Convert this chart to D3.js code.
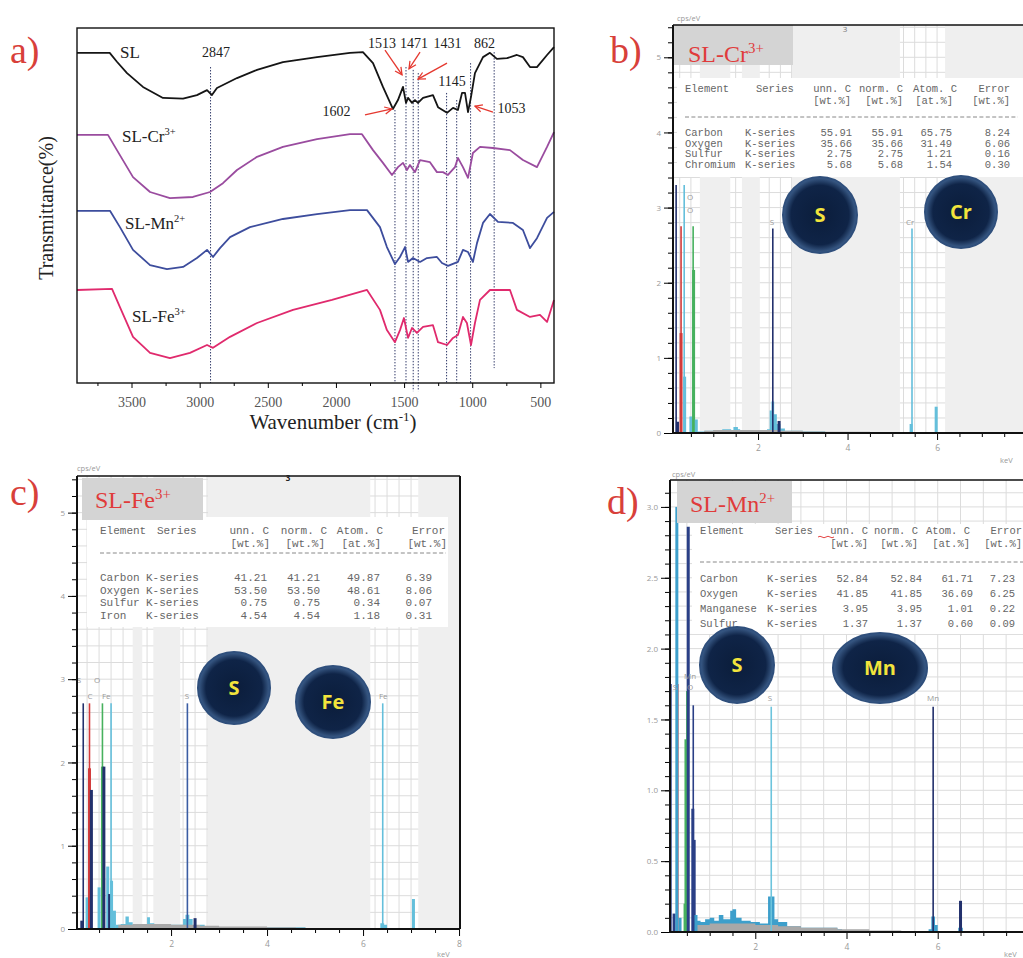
<!DOCTYPE html>
<html>
<head>
<meta charset="utf-8">
<script src="https://cdn.jsdelivr.net/npm/d3@7"></script>
<style>
  body { margin: 0; background: #fff; }
</style>
</head>
<body>
<div id="fig"></div>
<script>
// ---------- panel a : FTIR spectra (wavenumber, transmittance a.u.) ----------
const wnSL = [3900, 3660, 3607, 3533, 3416, 3269, 3122, 3020, 2946, 2910, 2873, 2726, 2579, 2389, 2139, 1897, 1802, 1728, 1655, 1582, 1545, 1508, 1486, 1471, 1442, 1420, 1398, 1361, 1288, 1251, 1185, 1141, 1105, 1075, 1053, 1031, 1009, 980, 921, 870, 819, 745, 672, 628, 576, 525, 451, 400];
const tSL = [93.0, 93.0, 90.5, 87.3, 83.4, 80.3, 80.1, 81.1, 82.5, 81.1, 83.1, 85.9, 88.2, 90.4, 91.8, 93.0, 93.2, 90.1, 83.4, 77.2, 79.7, 83.4, 78.9, 80.3, 78.9, 79.7, 78.9, 80.3, 81.1, 77.7, 76.1, 77.5, 76.9, 81.7, 81.7, 76.3, 80.6, 87.3, 91.8, 93.0, 91.3, 91.5, 92.4, 91.8, 89.0, 89.0, 92.4, 94.6];

const wnCr = [3900, 3673, 3607, 3489, 3364, 3218, 3049, 2924, 2829, 2726, 2579, 2389, 2139, 1897, 1809, 1728, 1655, 1589, 1545, 1508, 1479, 1457, 1420, 1383, 1310, 1259, 1215, 1178, 1127, 1105, 1068, 1031, 995, 943, 848, 723, 628, 525, 451, 400];
const tCr = [69.9, 69.9, 65.6, 58.0, 53.8, 52.1, 52.4, 53.8, 56.3, 60.0, 63.7, 66.5, 68.7, 70.1, 70.1, 65.6, 62.0, 58.6, 60.8, 62.0, 60.0, 61.4, 59.4, 62.8, 62.2, 59.4, 59.4, 58.6, 60.8, 63.4, 60.8, 57.8, 64.8, 66.5, 66.2, 65.6, 62.8, 60.8, 66.5, 70.7];

const wnMn = [3900, 3658, 3585, 3489, 3364, 3240, 3122, 3020, 2946, 2902, 2851, 2777, 2631, 2389, 2139, 1897, 1772, 1677, 1626, 1567, 1530, 1493, 1471, 1435, 1383, 1332, 1259, 1222, 1178, 1105, 1068, 1031, 995, 965, 921, 870, 811, 701, 628, 576, 525, 451, 400];
const tMn = [48.5, 48.5, 43.9, 37.5, 33.2, 32.1, 32.7, 35.2, 37.5, 35.5, 38.0, 41.1, 43.9, 46.2, 47.6, 48.7, 48.7, 43.9, 38.3, 33.5, 35.5, 38.3, 34.1, 35.2, 34.1, 35.2, 35.5, 33.8, 33.0, 34.1, 37.5, 36.9, 34.1, 39.4, 45.1, 47.6, 45.4, 45.1, 43.1, 38.0, 40.8, 46.5, 48.2];

const wnFe = [3900, 3643, 3585, 3489, 3364, 3218, 3071, 2946, 2902, 2777, 2579, 2315, 2029, 1772, 1677, 1626, 1567, 1530, 1501, 1471, 1442, 1406, 1361, 1288, 1251, 1185, 1141, 1105, 1068, 1039, 1009, 980, 943, 870, 819, 723, 672, 576, 503, 451, 400];
const tFe = [26.2, 26.5, 21.4, 13.0, 8.5, 7.0, 8.5, 10.7, 9.9, 13.0, 16.9, 20.6, 23.4, 26.2, 20.6, 14.9, 11.5, 14.9, 18.3, 12.7, 15.5, 14.1, 15.8, 16.3, 11.5, 10.7, 12.7, 13.5, 18.6, 16.9, 10.7, 16.9, 23.4, 26.2, 26.2, 26.2, 20.6, 18.6, 19.2, 17.2, 23.4];

const seriesName = ['SL', 'SL-Cr', 'SL-Mn', 'SL-Fe'];
const seriesSup = ['', '3+', '2+', '3+'];
const nameWn = [3585, 3570, 3548, 3496];
const nameT = [91.5, 67.9, 43.4, 17.2];

// dotted guide lines
const vWn = [2920, 1567, 1486, 1433, 1396, 1188, 1114, 1012, 839];
const vTop = [89.0, 76.9, 89.0, 88.2, 87.3, 81.7, 79.7, 90.1, 93.2];
const vBot = [0, 0, 0, -2.3, -2.3, 0, 0, 0, 4.2];

// peak annotations
const peakLab = ['2847', '1513', '1471', '1431', '862', '1145', '1602', '1053'];
const peakLabWn = [2880, 1662, 1427, 1182, 910, 1149, 1996, 712];
const peakLabT = [91.8, 94.4, 94.4, 94.4, 94.4, 83.7, 75.2, 76.1];
const arrFromWn = [1640, 1383, 1185, 1787, 848];
const arrFromT = [93.8, 93.2, 90.1, 75.5, 76.3];
const arrToWn = [1515, 1464, 1398, 1589, 980];
const arrToT = [86.8, 88.5, 85.6, 77.2, 78.0];

const xTicksA = [3500, 3000, 2500, 2000, 1500, 1000, 500];
const xMinorA = [3750, 3250, 2750, 2250, 1750, 1250, 750];

// ---------- panel b : EDS SL-Cr3+ ----------
const bElem = ['Carbon', 'Oxygen', 'Sulfur', 'Chromium'];
const bUnn = [55.91, 35.66, 2.75, 5.68];
const bNorm = [55.91, 35.66, 2.75, 5.68];
const bAtom = [65.75, 31.49, 1.21, 1.54];
const bErr = [8.24, 6.06, 0.16, 0.30];
const bMarkK = [0.17, 0.28, 0.35, 0.55, 2.33, 5.44];
const bMarkV = [3.3, 2.75, 3.3, 2.75, 2.72, 2.72];
const bMarkEl = ['bs', 'C', 'sp', 'O', 'S', 'Cr'];
const bPeakK = [0.2, 0.28, 0.36, 0.5, 0.56, 0.62, 2.47, 5.42, 5.98];
const bPeakV = [0.15, 1.33, 0.75, 0.22, 2.17, 0.18, 0.16, 0.12, 0.35];
const bPeakEl = ['bs', 'C', 'sp', 'sp', 'O', 'sp', 'bs', 'sp', 'sp'];
const bSpecK = [0.65, 0.8, 1.0, 1.2, 1.4, 1.45, 1.55, 1.6, 2.0, 2.2, 2.26, 2.3, 2.36, 2.42, 2.5, 2.6, 3.0, 3.5, 4.0];
const bSpecV = [0.02, 0.03, 0.04, 0.05, 0.04, 0.08, 0.05, 0.04, 0.04, 0.05, 0.3, 0.42, 0.25, 0.12, 0.06, 0.03, 0.02, 0.01, 0.0];
const bBgK = [0.8, 1.0, 1.5, 2.0, 2.5, 3.0, 3.5, 4.5];
const bBgV = [0.03, 0.04, 0.04, 0.04, 0.03, 0.02, 0.015, 0.0];
const bLabT = ['O', 'O', 'S', 'Cr'];
const bLabK = [0.48, 0.48, 2.31, 5.4];
const bLabV = [3.14, 2.97, 2.81, 2.81];

// ---------- panel c : EDS SL-Fe3+ ----------
const cElem = ['Carbon', 'Oxygen', 'Sulfur', 'Iron'];
const cUnn = [41.21, 53.50, 0.75, 4.54];
const cNorm = [41.21, 53.50, 0.75, 4.54];
const cAtom = [49.87, 48.61, 0.34, 1.18];
const cErr = [6.39, 8.06, 0.07, 0.31];
const cMarkK = [0.17, 0.3, 0.57, 0.75, 2.34, 6.41];
const cMarkV = [2.71, 2.71, 2.71, 2.71, 2.71, 2.71];
const cMarkEl = ['bs', 'C', 'O', 'Fe', 'S', 'Fe'];
const cPeakK = [0.14, 0.25, 0.3, 0.34, 0.5, 0.57, 0.6, 0.68, 0.72, 0.76, 0.82, 2.5, 7.05];
const cPeakV = [0.1, 0.38, 1.93, 1.67, 0.5, 1.95, 1.95, 0.75, 0.42, 0.58, 0.22, 0.13, 0.36];
const cPeakEl = ['bs', 'sp', 'C', 'bs', 'sp', 'O', 'bs', 'sp', 'bs', 'sp', 'sp', 'bs', 'sp'];
const cSpecK = [0.85, 0.95, 1.05, 1.12, 1.2, 1.45, 1.5, 1.56, 1.65, 2.2, 2.25, 2.3, 2.38, 2.45, 2.6, 2.7, 3.0, 4.0, 4.8, 6.3, 6.36, 6.44, 6.5];
const cSpecV = [0.05, 0.06, 0.15, 0.08, 0.05, 0.06, 0.14, 0.07, 0.05, 0.05, 0.12, 0.17, 0.12, 0.04, 0.05, 0.03, 0.02, 0.02, 0.0, 0.0, 0.07, 0.05, 0.0];
const cBgK = [0.9, 1.2, 1.6, 2.0, 2.6, 3.0, 4.0, 4.6, 4.8];
const cBgV = [0.05, 0.06, 0.06, 0.05, 0.04, 0.03, 0.02, 0.015, 0.0];
const cLabT = ['S', 'O', 'C', 'Fe', 'S', 'Fe'];
const cLabK = [0.08, 0.46, 0.31, 0.65, 2.33, 6.42];
const cLabV = [2.99, 2.99, 2.8, 2.8, 2.8, 2.8];

// ---------- panel d : EDS SL-Mn2+ ----------
const dElem = ['Carbon', 'Oxygen', 'Manganese', 'Sulfur'];
const dUnn = [52.84, 41.85, 3.95, 1.37];
const dNorm = [52.84, 41.85, 3.95, 1.37];
const dAtom = [61.71, 36.69, 1.01, 0.60];
const dErr = [7.23, 6.25, 0.22, 0.09];
const dMarkK = [0.15, 0.3, 0.5, 0.64, 2.35, 5.9];
const dMarkV = [1.75, 1.75, 1.7, 1.6, 1.59, 1.59];
const dMarkEl = ['bs', 'C', 'O', 'bs', 'S', 'Mn'];
const dPeakK = [0.22, 0.28, 0.35, 0.46, 0.48, 0.53, 0.63, 0.66, 0.7, 6.5];
const dPeakV = [0.13, 3.0, 0.1, 0.2, 1.36, 2.86, 0.87, 0.65, 0.12, 0.22];
const dPeakEl = ['bs', 'sp', 'sp', 'O', 'O', 'bs', 'bs', 'bs', 'sp', 'Mn'];
const dSpecK = [0.72, 0.8, 0.9, 1.0, 1.1, 1.2, 1.3, 1.45, 1.5, 1.58, 1.7, 1.9, 2.1, 2.28, 2.42, 2.5, 2.7, 3.0, 3.3, 3.8, 3.9, 5.8, 5.86, 5.94, 6.0, 6.45, 6.55];
const dSpecV = [0.08, 0.07, 0.09, 0.1, 0.08, 0.12, 0.09, 0.15, 0.16, 0.1, 0.08, 0.07, 0.06, 0.25, 0.09, 0.07, 0.04, 0.03, 0.03, 0.02, 0.0, 0.02, 0.11, 0.05, 0.0, 0.03, 0.0];
const dBgK = [0.72, 1.0, 1.5, 2.0, 2.5, 3.0, 3.8, 4.5, 5.2];
const dBgV = [0.05, 0.06, 0.06, 0.05, 0.04, 0.03, 0.02, 0.01, 0.0];
const dLabT = ['Mn', 'S', 'O', 'S', 'Mn'];
const dLabK = [0.57, 0.24, 0.57, 2.32, 5.9];
const dLabV = [1.81, 1.73, 1.73, 1.65, 1.65];

const serif = '"Liberation Serif", "Times New Roman", serif';
const sans = '"Open Sans", "Liberation Sans", sans-serif';
const mono = '"Liberation Mono", "DejaVu Sans Mono", monospace';
const red = '#d8403a';

const svg = d3.select('#fig').append('svg')
  .attr('width', 1023)
  .attr('height', 958)
  .style('font-family', serif);

const defs = svg.append('defs');
defs.append('marker')
  .attr('id', 'arr')
  .attr('viewBox', '0 0 10 10')
  .attr('refX', 9).attr('refY', 5)
  .attr('markerWidth', 9).attr('markerHeight', 9)
  .attr('markerUnits', 'userSpaceOnUse')
  .attr('orient', 'auto')
  .append('path')
  .attr('d', 'M1,1 L9,5 L1,9')
  .attr('fill', 'none')
  .attr('stroke', '#e5382f')
  .attr('stroke-width', 1.4);

const ball = defs.append('radialGradient').attr('id', 'ball');
ball.append('stop').attr('offset', '0%').attr('stop-color', '#0b1d3b');
ball.append('stop').attr('offset', '78%').attr('stop-color', '#0f2447');
ball.append('stop').attr('offset', '100%').attr('stop-color', '#3d5f8c');

function supText(parent, x, y, base, sup, size, color) {
  const t = parent.append('text')
    .attr('x', x).attr('y', y)
    .attr('fill', color)
    .style('font-size', size + 'px');
  t.append('tspan').text(base);
  if (sup) {
    t.append('tspan')
      .attr('dy', -size * 0.38)
      .style('font-size', (size * 0.62) + 'px')
      .text(sup);
  }
  return t;
}

// =================== panel a ===================
const ax = d3.scaleLinear().domain([3900, 400]).range([77, 554]);
const ay = d3.scaleLinear().domain([0, 100]).range([383, 28]);
const pa = svg.append('g');

// dotted guides
pa.selectAll('line.guide')
  .data(vWn)
  .join('line')
  .attr('class', 'guide')
  .attr('x1', d => ax(d)).attr('x2', d => ax(d))
  .attr('y1', (d, i) => ay(vTop[i]))
  .attr('y2', (d, i) => ay(vBot[i]))
  .attr('stroke', '#2c3566')
  .attr('stroke-width', 1)
  .attr('stroke-dasharray', '1.4,1.6');

const ftir = [
  { w: wnSL, t: tSL, col: '#151515' },
  { w: wnCr, t: tCr, col: '#9a4c9f' },
  { w: wnMn, t: tMn, col: '#3d4d9d' },
  { w: wnFe, t: tFe, col: '#e02a6d' }
];
const lineA = d3.line().x(d => ax(d[0])).y(d => ay(d[1]));
pa.selectAll('path.ftir')
  .data(ftir)
  .join('path')
  .attr('class', 'ftir')
  .attr('d', s => lineA(d3.zip(s.w, s.t)))
  .attr('fill', 'none')
  .attr('stroke', s => s.col)
  .attr('stroke-width', 1.8)
  .attr('stroke-linejoin', 'round');

pa.append('rect')
  .attr('x', ax(3900)).attr('y', ay(100))
  .attr('width', ax(400) - ax(3900))
  .attr('height', ay(0) - ay(100))
  .attr('fill', 'none')
  .attr('stroke', '#111')
  .attr('stroke-width', 1.4);

const xa = pa.append('g')
  .attr('transform', `translate(0,${ay(0)})`)
  .call(d3.axisBottom(ax).tickValues(xTicksA).tickSize(5).tickPadding(9).tickFormat(d3.format('d')));
xa.select('.domain').remove();
xa.attr('font-family', serif).attr('font-size', 14);
xa.selectAll('text').attr('fill', '#555');
const xam = pa.append('g')
  .attr('transform', `translate(0,${ay(0)})`)
  .call(d3.axisBottom(ax).tickValues(xMinorA).tickSize(3));
xam.select('.domain').remove();
xam.selectAll('text').remove();

const xt = pa.append('text')
  .attr('x', 333).attr('y', 429)
  .attr('text-anchor', 'middle')
  .style('font-size', '21px')
  .attr('fill', '#222');
xt.append('tspan').text('Wavenumber (cm');
xt.append('tspan').attr('dy', -8).style('font-size', '13px').text('-1');
xt.append('tspan').attr('dy', 8).text(')');

pa.append('text')
  .attr('transform', 'translate(53,208) rotate(-90)')
  .attr('text-anchor', 'middle')
  .style('font-size', '20px')
  .attr('fill', '#222')
  .text('Transmittance(%)');

seriesName.forEach((n, i) => {
  supText(pa, ax(nameWn[i]), ay(nameT[i]), n, seriesSup[i], 17, '#222');
});

pa.selectAll('text.plab')
  .data(peakLab)
  .join('text')
  .attr('class', 'plab')
  .attr('x', (d, i) => ax(peakLabWn[i]))
  .attr('y', (d, i) => ay(peakLabT[i]))
  .attr('text-anchor', 'middle')
  .style('font-size', '14px')
  .attr('fill', '#222')
  .text(d => d);

pa.selectAll('line.arrow')
  .data(arrFromWn)
  .join('line')
  .attr('class', 'arrow')
  .attr('x1', d => ax(d))
  .attr('y1', (d, i) => ay(arrFromT[i]))
  .attr('x2', (d, i) => ax(arrToWn[i]))
  .attr('y2', (d, i) => ay(arrToT[i]))
  .attr('stroke', '#e5382f')
  .attr('stroke-width', 1.3)
  .attr('marker-end', 'url(#arr)');

// =================== EDS panels ===================
function drawEds(p) {
  const g = svg.append('g');
  const x = d3.scaleLinear().domain(p.xd).range(p.xr);
  const y = d3.scaleLinear().domain(p.yd).range(p.yr);
  const x0 = p.xr[0], x1 = p.xr[1], yb = p.yr[0], yt = p.yr[1];

  defs.append('clipPath').attr('id', 'clip-' + p.id)
    .append('rect')
    .attr('x', x0).attr('y', yt)
    .attr('width', x1 - x0).attr('height', yb - yt);

  const plot = g.append('g').attr('clip-path', `url(#clip-${p.id})`);
  plot.append('rect')
    .attr('x', x0).attr('y', yt)
    .attr('width', x1 - x0).attr('height', yb - yt)
    .attr('fill', '#fff');

  // grid
  plot.selectAll('line.gx')
    .data(d3.range(p.gx, p.xd[1], p.gx))
    .join('line')
    .attr('x1', d => x(d)).attr('x2', d => x(d))
    .attr('y1', yt).attr('y2', yb)
    .attr('stroke', '#dcdcdc').attr('stroke-width', 1);
  plot.selectAll('line.gy')
    .data(d3.range(p.gy, p.yd[1], p.gy))
    .join('line')
    .attr('x1', x0).attr('x2', x1)
    .attr('y1', d => y(d)).attr('y2', d => y(d))
    .attr('stroke', '#dcdcdc').attr('stroke-width', 1);

  // grey region bands
  plot.selectAll('rect.band')
    .data(p.bands)
    .join('rect')
    .attr('x', d => x(d[0]))
    .attr('width', d => x(d[1]) - x(d[0]))
    .attr('y', yt).attr('height', yb - yt)
    .attr('fill', '#efefef');

  // spectrum + background fit
  const area = d3.area().curve(d3.curveStepAfter)
    .x(d => x(d[0])).y0(y(0)).y1(d => y(d[1]));
  plot.append('path').datum(d3.zip(p.specK, p.specV))
    .attr('d', area).attr('fill', p.pal.sp);
  plot.append('path').datum(d3.zip(p.bgK, p.bgV))
    .attr('d', area).attr('fill', '#a8a8a8');

  plot.selectAll('line.mk')
    .data(p.markK)
    .join('line')
    .attr('x1', d => x(d)).attr('x2', d => x(d))
    .attr('y1', y(0))
    .attr('y2', (d, i) => y(p.markV[i]))
    .attr('stroke', (d, i) => p.pal[p.markEl[i]])
    .attr('stroke-width', 1.6);

  plot.selectAll('rect.pk')
    .data(p.peakK)
    .join('rect')
    .attr('x', d => x(d) - 1.5)
    .attr('width', 3)
    .attr('y', (d, i) => y(p.peakV[i]))
    .attr('height', (d, i) => y(0) - y(p.peakV[i]))
    .attr('fill', (d, i) => p.pal[p.peakEl[i]]);

  plot.selectAll('text.el')
    .data(p.labT)
    .join('text')
    .attr('x', (d, i) => x(p.labK[i]))
    .attr('y', (d, i) => y(p.labV[i]) + 3)
    .attr('text-anchor', 'middle')
    .style('font-family', sans)
    .style('font-size', '8px')
    .attr('fill', '#999')
    .text(d => d);

  // quantification table
  const t = p.tab;
  plot.append('rect')
    .attr('x', t.box[0]).attr('y', t.box[1])
    .attr('width', t.box[2]).attr('height', t.box[3])
    .attr('fill', '#fff');
  const tg = plot.append('g')
    .style('font-family', mono)
    .style('font-size', t.fs + 'px')
    .attr('fill', '#666');
  tg.append('text').attr('x', t.xEl).attr('y', t.yHead).text('Element');
  tg.append('text').attr('x', t.xSerH).attr('y', t.yHead).text('Series');
  ['unn. C', 'norm. C', 'Atom. C', 'Error'].forEach((s, i) => {
    tg.append('text').attr('x', t.rHead[i]).attr('y', t.yHead)
      .attr('text-anchor', 'end').text(s);
  });
  ['[wt.%]', '[wt.%]', '[at.%]', '[wt.%]'].forEach((s, i) => {
    tg.append('text').attr('x', t.rSub[i]).attr('y', t.ySub)
      .attr('text-anchor', 'end').text(s);
  });
  tg.append('line')
    .attr('x1', t.dash[0]).attr('x2', t.dash[1])
    .attr('y1', t.yDash).attr('y2', t.yDash)
    .attr('stroke', '#888').attr('stroke-width', 1)
    .attr('stroke-dasharray', '4,2.4');
  p.elem.forEach((e, i) => {
    const yy = t.yRows[i];
    tg.append('text').attr('x', t.xEl).attr('y', yy).text(e);
    tg.append('text').attr('x', t.xSerD).attr('y', yy).text('K-series');
    [p.unn[i], p.norm[i], p.atom[i], p.err[i]].forEach((v, j) => {
      tg.append('text').attr('x', t.rData[j]).attr('y', yy)
        .attr('text-anchor', 'end').text(v.toFixed(2));
    });
  });
  if (t.underline) {
    tg.append('path')
      .attr('d', `M${t.underline[0]},${t.underline[2]} q2,-1.5 4,0 t4,0 t4,0 t4,0`)
      .attr('fill', 'none').attr('stroke', '#e03030').attr('stroke-width', 0.9);
  }

  // sample label box
  plot.append('rect')
    .attr('x', p.box[0]).attr('y', p.box[1])
    .attr('width', p.box[2]).attr('height', p.box[3])
    .attr('fill', '#d4d4d4');
  supText(plot, p.name[0], p.name[1], p.name[2], p.name[3], 24, '#e03b3b');

  // axes
  const ya = g.append('g')
    .attr('transform', `translate(${x0},0)`)
    .call(d3.axisLeft(y).tickValues(p.yMajor).tickSize(9).tickPadding(3).tickFormat(d3.format(p.yFmt)));
  ya.select('.domain').remove();
  ya.attr('font-family', sans).attr('font-size', 8);
  ya.selectAll('text').attr('fill', '#999');
  const yam = g.append('g')
    .attr('transform', `translate(${x0},0)`)
    .call(d3.axisLeft(y).tickValues(d3.range(0, p.yd[1], p.yMinor)).tickSize(5));
  yam.select('.domain').remove();
  yam.selectAll('text').remove();

  const xa2 = g.append('g')
    .attr('transform', `translate(0,${yb})`)
    .call(d3.axisBottom(x).tickValues(p.xMajor).tickSize(7).tickPadding(5).tickFormat(d3.format('d')));
  xa2.select('.domain').remove();
  xa2.attr('font-family', sans).attr('font-size', 8.5);
  xa2.selectAll('text').attr('fill', '#999');
  const xam2 = g.append('g')
    .attr('transform', `translate(0,${yb})`)
    .call(d3.axisBottom(x).tickValues(d3.range(0.5, p.xd[1], 0.5).filter(v => v > p.xd[0] && v % 2 !== 0)).tickSize(4));
  xam2.select('.domain').remove();
  xam2.selectAll('text').remove();

  g.append('line').attr('x1', x0).attr('x2', x0).attr('y1', yt).attr('y2', yb + 1)
    .attr('stroke', '#111').attr('stroke-width', 2);
  g.append('line').attr('x1', x0).attr('x2', x1).attr('y1', yb).attr('y2', yb)
    .attr('stroke', '#111').attr('stroke-width', 2);
  g.append('line').attr('x1', x0).attr('x2', x1).attr('y1', yt).attr('y2', yt)
    .attr('stroke', '#111').attr('stroke-width', 1.5);
  if (p.rightBorder) {
    g.append('line').attr('x1', x1).attr('x2', x1).attr('y1', yt).attr('y2', yb)
      .attr('stroke', '#111').attr('stroke-width', 2);
  }

  g.append('text').attr('x', p.cps[0]).attr('y', p.cps[1])
    .style('font-family', sans).style('font-size', '7.5px').attr('fill', '#999').text('cps/eV');
  g.append('text').attr('x', p.kev[0]).attr('y', p.kev[1])
    .style('font-family', sans).style('font-size', '7.5px').attr('fill', '#999').text('keV');
  if (p.three) {
    g.append('text').attr('x', p.three[0]).attr('y', p.three[1])
      .attr('text-anchor', 'middle')
      .style('font-family', sans).style('font-size', '8px')
      .style('font-weight', p.three[2]).attr('fill', p.three[3]).text('3');
  }

  // highlighted element balls
  p.balls.forEach(b => {
    g.append('ellipse')
      .attr('cx', b[0]).attr('cy', b[1]).attr('rx', b[2]).attr('ry', b[3])
      .attr('fill', 'url(#ball)')
      .attr('stroke', '#2f4f7c').attr('stroke-width', 2);
    g.append('text')
      .attr('x', b[0]).attr('y', b[1] + 7)
      .attr('text-anchor', 'middle')
      .style('font-family', sans)
      .style('font-weight', 'bold')
      .style('font-size', '20px')
      .attr('fill', '#f2e43c')
      .text(b[4]);
  });

  // panel letter
  svg.append('text')
    .attr('x', p.letter[0]).attr('y', p.letter[1])
    .style('font-size', '38px')
    .attr('fill', red)
    .text(p.letter[2]);
}

const navy = '#22306c', cred = '#d23b3b', green = '#47b15e', cyan = '#64bfdb';

drawEds({
  id: 'b', xd: [0.1, 7.92], xr: [673, 1023], yd: [0, 5.43], yr: [433, 25],
  yMajor: [0, 1, 2, 3, 4, 5], yMinor: 0.2, yFmt: 'd', xMajor: [2, 4, 6],
  gx: 0.25, gy: 0.2,
  bands: [[0.7, 1.38], [1.64, 2.04], [2.76, 5.17], [6.18, 7.92]],
  pal: { C: cred, O: green, S: navy, Cr: cyan, bs: navy, sp: cyan },
  markK: bMarkK, markV: bMarkV, markEl: bMarkEl,
  peakK: bPeakK, peakV: bPeakV, peakEl: bPeakEl,
  specK: bSpecK, specV: bSpecV, bgK: bBgK, bgV: bBgV,
  labT: bLabT, labK: bLabK, labV: bLabV,
  elem: bElem, unn: bUnn, norm: bNorm, atom: bAtom, err: bErr,
  tab: {
    box: [677, 78, 346, 99], fs: 10.5, xEl: 685, xSerH: 756, xSerD: 745,
    rHead: [851, 903, 957, 1010], rSub: [851, 903, 953, 1010], rData: [852, 903, 952, 1010],
    yHead: 91.5, ySub: 103.5, yDash: 117, yRows: [135.5, 146.5, 157, 168], dash: [685, 1018]
  },
  box: [673, 25, 120, 40], name: [688, 62, 'SL-Cr', '3+'],
  cps: [677, 21], kev: [1000, 463], three: [845, 32, 'normal', '#777'],
  balls: [[820, 215, 37, 38, 'S'], [961, 212, 36, 36, 'Cr']],
  letter: [610, 63, 'b)']
});

drawEds({
  id: 'c', xd: [0.04, 8.02], xr: [77, 460], yd: [0, 5.44], yr: [929, 476],
  yMajor: [0, 1, 2, 3, 4, 5], yMinor: 0.2, yFmt: 'd', xMajor: [2, 4, 6, 8],
  gx: 0.25, gy: 0.2, rightBorder: true,
  bands: [[1.2, 1.4], [1.63, 2.19], [2.77, 6.15], [7.15, 8.02]],
  pal: { C: cred, O: green, S: '#3b5da3', Fe: cyan, bs: navy, sp: cyan },
  markK: cMarkK, markV: cMarkV, markEl: cMarkEl,
  peakK: cPeakK, peakV: cPeakV, peakEl: cPeakEl,
  specK: cSpecK, specV: cSpecV, bgK: cBgK, bgV: cBgV,
  labT: cLabT, labK: cLabK, labV: cLabV,
  elem: cElem, unn: cUnn, norm: cNorm, atom: cAtom, err: cErr,
  tab: {
    box: [87, 517, 361, 110], fs: 11, xEl: 100, xSerH: 157, xSerD: 146,
    rHead: [269, 327, 383, 445], rSub: [270, 325, 381, 447], rData: [267, 320, 380, 432],
    yHead: 534, ySub: 547, yDash: 553, yRows: [581, 593.5, 606, 619], dash: [100, 446]
  },
  box: [82, 478, 121, 42], name: [95, 508, 'SL-Fe', '3+'],
  cps: [77, 471], kev: [437, 957], three: [288, 481, 'bold', '#222'],
  balls: [[234, 688, 36, 36, 'S'], [333, 702, 37, 36, 'Fe']],
  letter: [10, 505, 'c)']
});

drawEds({
  id: 'd', xd: [0.13, 7.87], xr: [670, 1023], yd: [0, 3.19], yr: [932, 480],
  yMajor: [0, 0.5, 1, 1.5, 2, 2.5, 3], yMinor: 0.1, yFmt: '.1f', xMajor: [2, 4, 6],
  gx: 0.5, gy: 0.1,
  bands: [],
  pal: { C: cred, O: green, S: '#6cc4dc', Mn: navy, bs: '#2a3f86', sp: '#3d9fcb' },
  markK: dMarkK, markV: dMarkV, markEl: dMarkEl,
  peakK: dPeakK, peakV: dPeakV, peakEl: dPeakEl,
  specK: dSpecK, specV: dSpecV, bgK: dBgK, bgV: dBgV,
  labT: dLabT, labK: dLabK, labV: dLabV,
  elem: dElem, unn: dUnn, norm: dNorm, atom: dAtom, err: dErr,
  tab: {
    box: [692, 524, 331, 110], fs: 10.5, xEl: 700, xSerH: 775, xSerD: 767,
    rHead: [868, 918, 970, 1022], rSub: [868, 918, 970, 1022], rData: [868, 922, 973, 1015],
    yHead: 534, ySub: 546.5, yDash: 562, yRows: [582, 597, 612, 627], dash: [700, 1023],
    underline: [818, 834, 537]
  },
  box: [677, 481, 115, 42], name: [690, 512, 'SL-Mn', '2+'],
  cps: [672, 477], kev: [1004, 957], three: null,
  balls: [[737, 665, 37, 38, 'S'], [880, 668, 47, 35, 'Mn']],
  letter: [607, 514, 'd)']
});

svg.append('text')
  .attr('x', 10).attr('y', 63)
  .style('font-size', '38px')
  .attr('fill', red)
  .text('a)');
</script>
</body>
</html>
